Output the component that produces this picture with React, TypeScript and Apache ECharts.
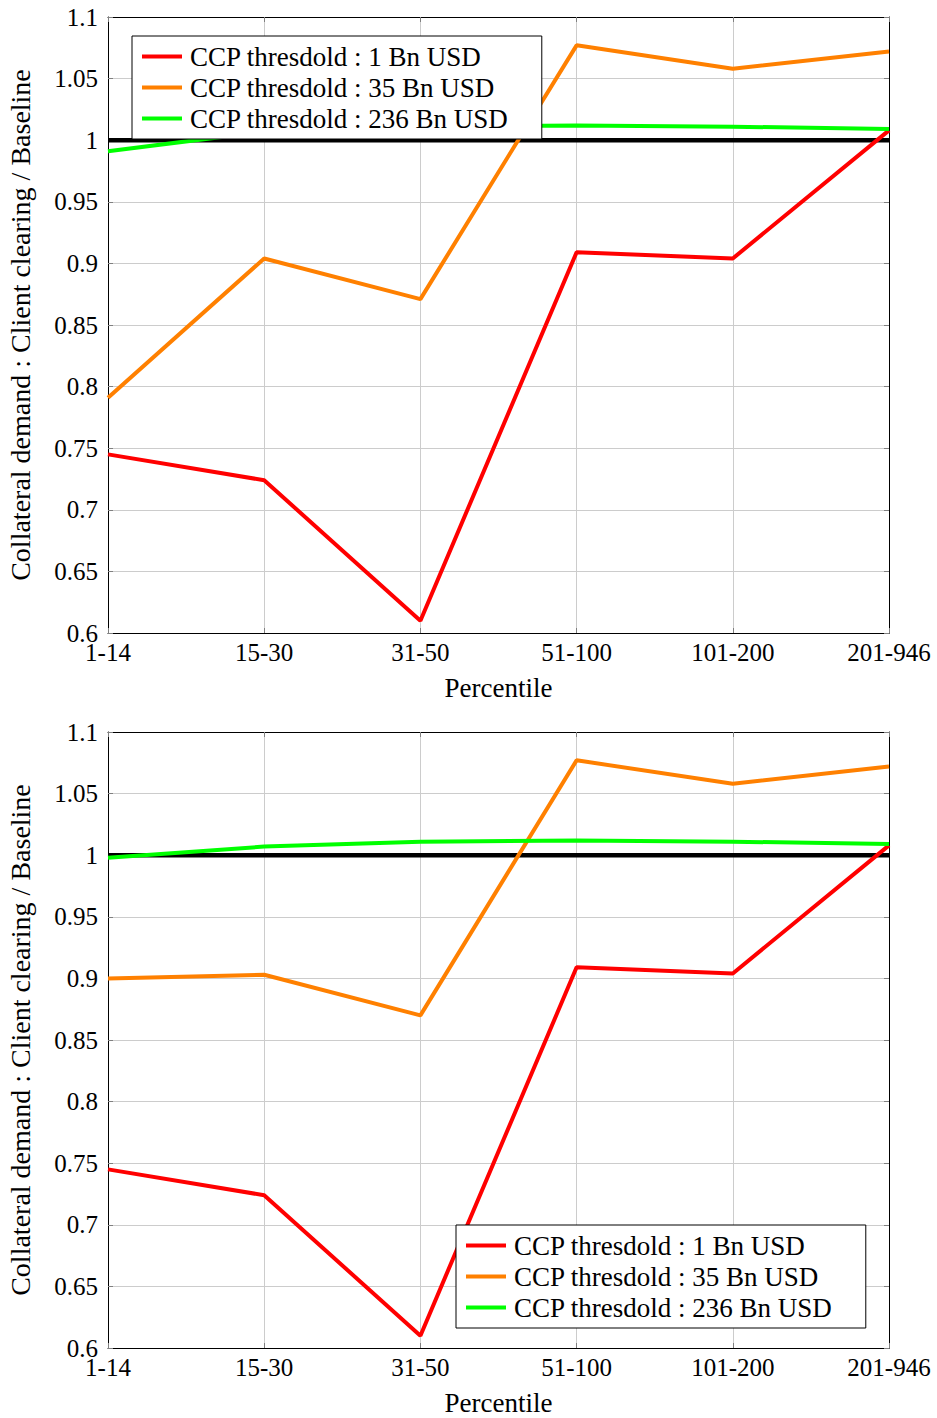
import React, { useEffect, useRef } from "react";
import * as echarts from "echarts";

const categories = ["1-14", "15-30", "31-50", "51-100", "101-200", "201-946"];
const seriesNames = [
  "CCP thresdold : 1 Bn USD",
  "CCP thresdold : 35 Bn USD",
  "CCP thresdold : 236 Bn USD",
];
const seriesColors = ["#ff0000", "#ff8000", "#00ff00"];
const baseline = [1, 1, 1, 1, 1, 1];

const topRed = [0.745, 0.724, 0.61, 0.909, 0.904, 1.008];
const topOrange = [0.791, 0.904, 0.871, 1.077, 1.058, 1.072];
const topGreen = [0.991, 1.007, 1.011, 1.012, 1.011, 1.009];

const bottomRed = [0.745, 0.724, 0.61, 0.909, 0.904, 1.008];
const bottomOrange = [0.9, 0.903, 0.87, 1.077, 1.058, 1.072];
const bottomGreen = [0.998, 1.007, 1.011, 1.012, 1.011, 1.009];

const yMin = 0.6;
const yMax = 1.1;
const yStep = 0.05;
const xName = "Percentile";
const yName = "Collateral demand : Client clearing / Baseline";

const FONT = "Liberation Serif";

export default function App() {
  const ref = useRef<HTMLDivElement>(null);
  useEffect(() => {
    if (!ref.current) return;
    const chart = echarts.init(ref.current, null, { renderer: "svg" });
    const grids = [
      { left: 108, top: 17, width: 781, height: 616 },
      { left: 108, top: 732, width: 781, height: 616 },
    ];
    const xAxes: any[] = [];
    const yAxes: any[] = [];
    grids.forEach((_, gi) => {
      xAxes.push({
        type: "category",
        gridIndex: gi,
        data: categories,
        boundaryGap: false,
        position: "bottom",
        name: xName,
        nameLocation: "middle",
        nameGap: 41,
        nameTextStyle: { fontFamily: FONT, fontSize: 27, color: "#000" },
        axisLine: { show: true, lineStyle: { color: "#000", width: 1 } },
        axisTick: { show: true, inside: true, length: 5, lineStyle: { color: "#808080" } },
        axisLabel: {
          interval: 0,
          margin: 7,
          fontFamily: FONT,
          fontSize: 25,
          color: "#000",
        },
        splitLine: {
          show: true,
          showMinLine: false,
          showMaxLine: false,
          lineStyle: { color: "#cccccc", width: 1 },
        },
      });
      xAxes.push({
        type: "category",
        gridIndex: gi,
        data: categories,
        boundaryGap: false,
        position: "top",
        axisLine: { show: true, lineStyle: { color: "#000", width: 1 } },
        axisTick: { show: true, inside: true, length: 5, lineStyle: { color: "#808080" } },
        axisLabel: { show: false },
        splitLine: { show: false },
      });
      yAxes.push({
        type: "value",
        gridIndex: gi,
        min: yMin,
        max: yMax,
        interval: yStep,
        position: "left",
        name: yName,
        nameLocation: "middle",
        nameGap: 74,
        nameTextStyle: { fontFamily: FONT, fontSize: 28, color: "#000" },
        axisLine: { show: true, lineStyle: { color: "#000", width: 1 } },
        axisTick: { show: true, inside: true, length: 5, lineStyle: { color: "#808080" } },
        axisLabel: {
          margin: 10,
          fontFamily: FONT,
          fontSize: 25,
          color: "#000",
          formatter: (v: number) => String(parseFloat(v.toFixed(2))),
        },
        splitLine: {
          show: true,
          showMinLine: false,
          showMaxLine: false,
          lineStyle: { color: "#cccccc", width: 1 },
        },
      });
      yAxes.push({
        type: "value",
        gridIndex: gi,
        min: yMin,
        max: yMax,
        interval: yStep,
        position: "right",
        axisLine: { show: true, lineStyle: { color: "#000", width: 1 } },
        axisTick: { show: true, inside: true, length: 5, lineStyle: { color: "#808080" } },
        axisLabel: { show: false },
        splitLine: { show: false },
      });
    });

    const data = [
      [topRed, topOrange, topGreen],
      [bottomRed, bottomOrange, bottomGreen],
    ];
    const series: any[] = [];
    data.forEach((set, gi) => {
      series.push({
        type: "line",
        name: "baseline",
        xAxisIndex: gi * 2,
        yAxisIndex: gi * 2,
        data: baseline,
        symbol: "none",
        silent: true,
        z: 1,
        lineStyle: { color: "#000", width: 4.5 },
        itemStyle: { color: "#000" },
      });
      set.forEach((vals, si) => {
        series.push({
          type: "line",
          name: seriesNames[si],
          xAxisIndex: gi * 2,
          yAxisIndex: gi * 2,
          data: vals,
          symbol: "none",
          z: 2,
          clip: true,
          lineStyle: { color: seriesColors[si], width: 4 },
          itemStyle: { color: seriesColors[si] },
        });
      });
    });

    const legendBase = {
      orient: "vertical",
      data: seriesNames,
      icon: "rect",
      itemWidth: 40,
      itemHeight: 4,
      itemGap: 0,
      padding: [5, 33, 5, 10],
      backgroundColor: "#fff",
      borderColor: "#000",
      borderWidth: 1,
      borderRadius: 0,
      selectedMode: false,
      textStyle: {
        fontFamily: FONT,
        fontSize: 27,
        color: "#000",
        lineHeight: 31,
        padding: [0, 0, 0, 3],
      },
    };

    chart.setOption({
      animation: false,
      backgroundColor: "#fff",
      grid: grids.map((g) => ({ ...g, containLabel: false, outerBoundsMode: "none" })),
      xAxis: xAxes,
      yAxis: yAxes,
      legend: [
        { ...legendBase, left: 132, top: 36 },
        { ...legendBase, left: 456, top: 1225 },
      ],
      series,
    });
    return () => chart.dispose();
  }, []);
  return (
    <div
      ref={ref}
      style={{ position: "absolute", left: 0, top: 0, width: 937, height: 1418 }}
    />
  );
}
